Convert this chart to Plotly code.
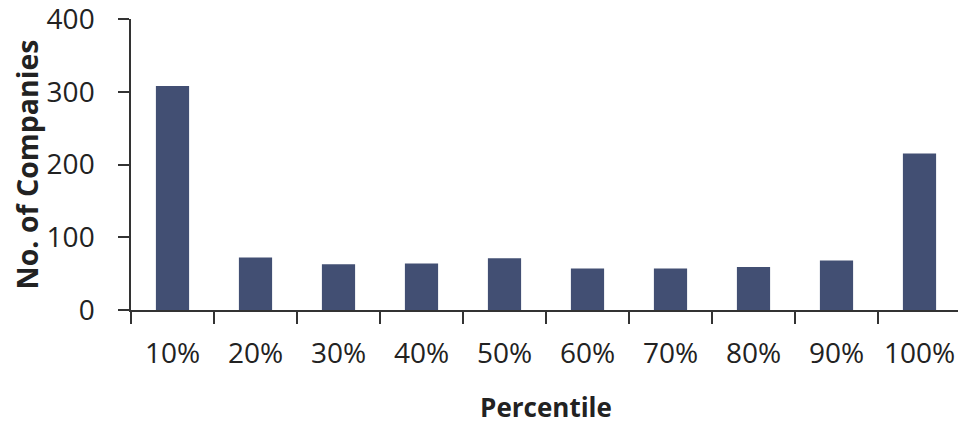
import plotly.graph_objects as go

categories = ["10%", "20%", "30%", "40%", "50%", "60%", "70%", "80%", "90%", "100%"]
companies = [308, 72, 63, 64, 71, 57, 57, 59, 68, 215]
y_ticks = [0, 100, 200, 300, 400]

FONT = "Open Sans"
AXIS_COLOR = "#333333"
BAR_COLOR = "#424F73"

fig = go.Figure(
    go.Bar(
        x=categories,
        y=companies,
        marker=dict(color=BAR_COLOR, line=dict(width=0)),
    )
)

# the page body adds an 8px offset, so the figure is 8px smaller than the window
fig.update_layout(
    width=958,
    height=417,
    margin=dict(l=123, r=5, t=11, b=115),
    paper_bgcolor="white",
    plot_bgcolor="white",
    bargap=0.6,
    showlegend=False,
    font=dict(family=FONT, color="#222222"),
)

fig.update_xaxes(
    type="category",
    tickson="boundaries",
    ticks="outside",
    ticklen=12,
    tickwidth=1.5,
    tickcolor=AXIS_COLOR,
    showline=True,
    linecolor=AXIS_COLOR,
    linewidth=1.5,
    showgrid=False,
    tickangle=0,
    automargin=False,
    ticklabeloverflow="allow",
    tickfont=dict(size=28, family=FONT, color="#222222"),
    ticklabelstandoff=18,
    title=dict(text="<b>Percentile</b>", font=dict(size=26, family=FONT, color="#222222"), standoff=30),
)

fig.update_yaxes(
    range=[0, 400],
    tickvals=y_ticks,
    ticks="outside",
    ticklen=11,
    tickwidth=1.5,
    tickcolor=AXIS_COLOR,
    showline=True,
    linecolor=AXIS_COLOR,
    linewidth=1.5,
    showgrid=False,
    zeroline=False,
    automargin=False,
    ticklabeloverflow="allow",
    tickfont=dict(size=28, family=FONT, color="#222222"),
    ticklabelstandoff=18,
    title=dict(text="<b>No. of Companies</b>", font=dict(size=28.5, family=FONT, color="#222222"), standoff=16),
)

fig.write_html("out.html")
